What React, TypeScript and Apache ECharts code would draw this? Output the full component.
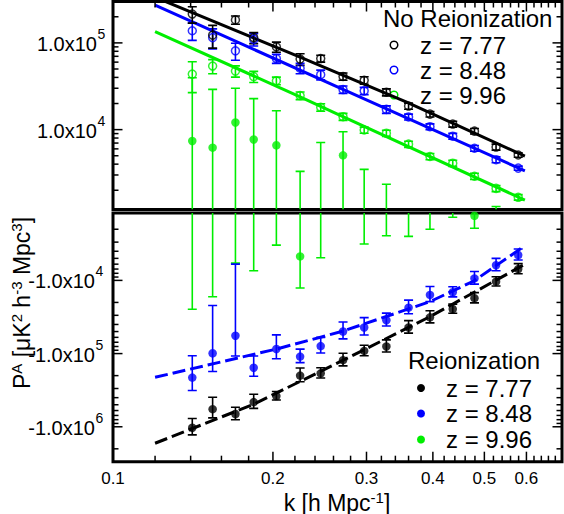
import React, { useEffect, useRef } from 'react';
import * as echarts from 'echarts';

// ---------------- data ----------------
const K = [0.141, 0.154, 0.170, 0.184, 0.203, 0.225, 0.246, 0.271, 0.297, 0.327, 0.360, 0.395, 0.436, 0.479, 0.526, 0.579];

// No reionization (positive power)
const NOREION_Z777 = [2.15e5, 1.23e5, 1.84e5, 1.15e5, 9.0e4, 6.5e4, 6.6e4, 4.1e4, 3.7e4, 2.7e4, 1.87e4, 1.51e4, 1.16e4, 9.6e3, 6.3e3, 5.1e3];
const NOREION_Z777_ERR = [4.6e4, 3.6e4, 2.0e4, 1.7e4, 1.2e4, 1.0e4, 6.0e3, 3.9e3, 3.7e3, 2.5e3, 1.5e3, 1.1e3, 9.0e2, 7.0e2, 5.0e2, 3.0e2];
const NOREION_Z848 = [1.38e5, 1.15e5, 8.1e4, 1.10e5, 6.6e4, 5.1e4, 4.3e4, 2.9e4, 2.8e4, 1.71e4, 1.40e4, 1.08e4, 8.4e3, 6.1e3, 4.5e3, 3.6e3];
const NOREION_Z848_ERR = [3.1e4, 3.0e4, 1.8e4, 1.8e4, 8.0e3, 7.0e3, 5.5e3, 2.9e3, 2.7e3, 1.7e3, 1.1e3, 8.5e2, 6.5e2, 4.7e2, 3.5e2, 2.0e2];
const NOREION_Z996 = [4.37e4, 5.41e4, 4.73e4, 4.09e4, 3.66e4, 2.47e4, 1.81e4, 1.41e4, 9.9e3, 9.1e3, 6.8e3, 4.9e3, 4.1e3, 2.9e3, 2.1e3, 1.66e3];
const NOREION_Z996_ERR = [1.7e4, 1.0e4, 7.0e3, 6.0e3, 3.7e3, 2.5e3, 1.8e3, 1.3e3, 8.0e2, 7.5e2, 5.5e2, 4.0e2, 3.3e2, 2.4e2, 1.7e2, 1.2e2];

// Reionization (signed power)
const REION_Z777 = [-1.03e6, -5.75e5, -6.7e5, -4.6e5, -3.8e5, -2.0e5, -1.86e5, -1.23e5, -9.2e4, -8.0e4, -4.4e4, -3.2e4, -2.46e4, -1.75e4, -1.04e4, -7.0e3];
const REION_Z777_ERR = [2.6e5, 1.8e5, 1.3e5, 1.0e5, 5.0e4, 4.3e4, 3.0e4, 2.4e4, 1.5e4, 1.5e4, 8.5e3, 6.0e3, 3.5e3, 2.8e3, 1.5e3, 1.1e3];
const REION_Z848 = [-2.13e5, -9.9e4, -5.7e4, -1.56e5, -8.65e4, -1.10e5, -7.9e4, -5.0e4, -4.4e4, -3.5e4, -2.36e4, -1.58e4, -1.45e4, -9.4e3, -6.2e3, -4.5e3];
const REION_Z848_ERR = [1.06e5, 7.7e4, 5.1e4, 4.8e4, 3.1e4, 2.3e4, 1.9e4, 1.3e4, 1.17e4, 7.0e3, 5.0e3, 3.7e3, 2.3e3, 1.85e3, 1.2e3, 7.7e2];
const REION_Z996 = [7.4e3, 6.2e3, 1.21e4, 7.7e3, 6.6e3, -4.7e3, 1.1e3, 5.05e3, 1.5e2, -5.0e1, -7.0e2, -6.0e2, -5.0e2, -1.31e3, 5.0e2, 2.0e2];
const REION_Z996_ERR = [3.22e4, 2.29e4, 1.79e4, 1.51e4, 9.9e3, 8.0e3, 6.0e3, 4.4e3, 3.33e3, 2.4e3, 1.8e3, 1.4e3, 8.7e2, 6.3e2, 8.0e2, 5.0e2];

// Model curves
const FIT_NR777_K = [0.12, 0.225, 0.357, 0.596];
const FIT_NR777_P = [3.36e5, 6.87e4, 2.08e4, 4.95e3];
const FIT_NR848_K = [0.12, 0.267, 0.596];
const FIT_NR848_P = [2.73e5, 3.02e4, 3.35e3];
const FIT_NR996_K = [0.12, 0.225, 0.267, 0.596];
const FIT_NR996_P = [1.345e5, 2.39e4, 1.47e4, 1.54e3];
const FIT_R777_K = [0.12, 0.1845, 0.2706, 0.395, 0.596];
const FIT_R777_P = [-1.68e6, -4.88e5, -1.24e5, -3.13e4, -6.02e3];
const FIT_R848_K = [0.12, 0.2033, 0.2706, 0.395, 0.4776, 0.596];
const FIT_R848_P = [-2.11e5, -8.65e4, -4.95e4, -1.95e4, -1.02e4, -3.36e3];

// Axes
const X_MIN = 0.1, X_MAX = 0.7;
const TOP_MIN = 1200, TOP_MAX = 3e5;
const BOT_MIN = 1200, BOT_MAX = 3e6;
const X_MAJOR = [0.1, 0.2, 0.3, 0.4, 0.5, 0.6];
const X_MAJOR_LABELS = ['0.1', '0.2', '0.3', '0.4', '0.5', '0.6'];
const X_MINOR = [0.12, 0.14, 0.16, 0.18, 0.22, 0.24, 0.26, 0.28, 0.32, 0.34, 0.36, 0.38, 0.42, 0.44, 0.46, 0.48, 0.52, 0.54, 0.56, 0.58, 0.62, 0.64, 0.66, 0.68];
const TOP_Y_MAJOR = [1e4, 1e5];
const TOP_Y_MINOR = [2e3, 3e3, 4e3, 5e3, 6e3, 7e3, 8e3, 9e3, 2e4, 3e4, 4e4, 5e4, 6e4, 7e4, 8e4, 9e4, 2e5];
const BOT_Y_MAJOR = [1e4, 1e5, 1e6];
const BOT_Y_MINOR = [2e3, 3e3, 4e3, 5e3, 6e3, 7e3, 8e3, 9e3, 2e4, 3e4, 4e4, 5e4, 6e4, 7e4, 8e4, 9e4, 2e5, 3e5, 4e5, 5e5, 6e5, 7e5, 8e5, 9e5, 2e6];

const SERIES_NAMES = ['z = 7.77', 'z = 8.48', 'z = 9.96'];

// ---------------- style ----------------
const FONT = '"Liberation Sans", Arial, Helvetica, sans-serif';
const BLACK = '#000000';
const BLUE = '#0000ff';
const GREEN = '#00ee00';

function txt(x: number, y: number, text: string, size: number, align: string, valign: string, extra: any = {}) {
  return {
    type: 'text', x, y,
    style: {
      text, font: `${size}px ${FONT}`, fontSize: size, fontFamily: FONT, fill: '#000',
      textAlign: align, textVerticalAlign: valign, align, verticalAlign: valign, ...extra,
    },
  };
}

function errSeries(gi: number, vals: number[], errs: number[], color: string, sign: number, yMin: number, yMax: number) {
  return {
    type: 'custom', xAxisIndex: gi, yAxisIndex: gi, z: 4, silent: true, clip: true,
    dimensions: ['k', 'p', 'v', 'e'], encode: { x: 0, y: 1 },
    data: K.map((k, i) => [k, yMin * 2, vals[i], errs[i]]),
    renderItem: (params: any, api: any) => {
      const k = api.value(0), v = api.value(2), e = api.value(3);
      const lo = v - e, hi = v + e;
      let a: number, b: number, capA = true, capB = true;
      if (sign > 0) { b = hi; a = lo; } else { b = -lo; a = -hi; }
      if (b <= yMin) return { type: 'group', children: [] };
      if (a < yMin) { a = yMin; capA = false; }
      if (b > yMax) { b = yMax; capB = false; }
      const p1 = api.coord([k, a]), p2 = api.coord([k, b]);
      const st = { stroke: color, lineWidth: 1.6 };
      const hw = 4.5;
      const children: any[] = [{ type: 'line', shape: { x1: p1[0], y1: p1[1], x2: p2[0], y2: p2[1] }, style: st }];
      if (capA) children.push({ type: 'line', shape: { x1: p1[0] - hw, y1: p1[1], x2: p1[0] + hw, y2: p1[1] }, style: st });
      if (capB) children.push({ type: 'line', shape: { x1: p2[0] - hw, y1: p2[1], x2: p2[0] + hw, y2: p2[1] }, style: st });
      return { type: 'group', children };
    },
  };
}

function scatterSeries(gi: number, vals: number[], color: string, sign: number, hollow: boolean) {
  const data: number[][] = [];
  K.forEach((k, i) => { const v = vals[i] * sign; if (v > 0) data.push([k, v]); });
  return {
    type: 'scatter', xAxisIndex: gi, yAxisIndex: gi, z: 5, silent: true, clip: true,
    symbol: 'circle', symbolSize: hollow ? 8 : 8.5,
    itemStyle: hollow ? { color: 'rgba(0,0,0,0)', borderColor: color, borderWidth: 1.5 } : { color, borderWidth: 0 },
    data,
  };
}

function lineSeries(gi: number, ks: number[], ps: number[], color: string, sign: number, dashed: boolean) {
  return {
    type: 'line', xAxisIndex: gi, yAxisIndex: gi, z: 3, silent: true, clip: true, symbol: 'none',
    lineStyle: { color, width: 3, type: dashed ? [13, 5] : 'solid' },
    data: ks.map((k, i) => [k, ps[i] * sign]),
  };
}

function yTickSeries(gi: number, majors: number[], minors: number[]) {
  return {
    type: 'custom', xAxisIndex: gi, yAxisIndex: gi, z: 10, silent: true,
    data: majors.map((v) => [X_MIN, v, 1]).concat(minors.map((v) => [X_MIN, v, 0])),
    renderItem: (params: any, api: any) => {
      const cs = params.coordSys;
      const p = api.coord([api.value(0), api.value(1)]);
      const len = api.value(2) ? 9.5 : 5.5;
      const st = { stroke: '#000', lineWidth: 1.5 };
      return {
        type: 'group', children: [
          { type: 'line', shape: { x1: cs.x, y1: p[1], x2: cs.x + len, y2: p[1] }, style: st },
          { type: 'line', shape: { x1: cs.x + cs.width, y1: p[1], x2: cs.x + cs.width - len, y2: p[1] }, style: st },
        ],
      };
    },
  };
}

function xTickSeries(gi: number, yRef: number, atTop: boolean) {
  return {
    type: 'custom', xAxisIndex: gi, yAxisIndex: gi, z: 10, silent: true,
    data: X_MAJOR.map((v) => [v, yRef, 1]).concat(X_MINOR.map((v) => [v, yRef, 0])),
    renderItem: (params: any, api: any) => {
      const cs = params.coordSys;
      const p = api.coord([api.value(0), api.value(1)]);
      const len = api.value(2) ? 10 : 6;
      const st = { stroke: '#000', lineWidth: 1.5 };
      const y0 = atTop ? cs.y : cs.y + cs.height;
      const y1 = atTop ? y0 + len : y0 - len;
      return { type: 'group', children: [{ type: 'line', shape: { x1: p[0], y1: y0, x2: p[0], y2: y1 }, style: st }] };
    },
  };
}

function yLabelSeries(gi: number, majors: number[], prefix: string, rightGap: number) {
  return {
    type: 'custom', xAxisIndex: gi, yAxisIndex: gi, z: 10, silent: true,
    data: majors.map((v) => [X_MIN, v]),
    renderItem: (params: any, api: any) => {
      const cs = params.coordSys;
      const v = api.value(1);
      const p = api.coord([api.value(0), v]);
      const exp = String(Math.round(Math.log10(v)));
      const xr = cs.x - rightGap;
      return {
        type: 'group', children: [
          txt(xr, p[1] + 1, prefix + '1.0x10', 20, 'right', 'middle'),
          txt(xr + 0.5, p[1] - 9, exp, 14, 'left', 'middle'),
        ],
      };
    },
  };
}

function xLabelSeries(gi: number, yRef: number) {
  return {
    type: 'custom', xAxisIndex: gi, yAxisIndex: gi, z: 10, silent: true,
    data: X_MAJOR.map((v, i) => [v, yRef, i]),
    renderItem: (params: any, api: any) => {
      const cs = params.coordSys;
      const p = api.coord([api.value(0), api.value(1)]);
      return txt(p[0], cs.y + cs.height + 17, X_MAJOR_LABELS[api.value(2)], 17, 'center', 'middle');
    },
  };
}

function hiddenAxis(extra: any) {
  return {
    type: 'log', logBase: 10, axisLine: { show: false }, axisTick: { show: false },
    axisLabel: { show: false }, splitLine: { show: false }, ...extra,
  };
}

export default function App() {
  const ref = useRef<HTMLDivElement>(null);
  useEffect(() => {
    if (!ref.current) return;
    const chart = echarts.init(ref.current, null, { renderer: 'svg' });
    const supRich = {
      m: { fontSize: 23, fontFamily: FONT, fill: '#000', lineHeight: 24, verticalAlign: 'bottom' },
      s: { fontSize: 15, fontFamily: FONT, fill: '#000', lineHeight: 15, padding: [0, 0, 13, 0], verticalAlign: 'top' },
    };
    const option: any = {
      animation: false,
      grid: [
        { left: 113, top: 1.5, width: 449, height: 208, show: true, borderWidth: 3, borderColor: '#000', backgroundColor: 'transparent' },
        { left: 113, top: 213, width: 449, height: 248.7, show: true, borderWidth: 3, borderColor: '#000', backgroundColor: 'transparent' },
      ],
      xAxis: [
        hiddenAxis({ gridIndex: 0, min: X_MIN, max: X_MAX }),
        hiddenAxis({ gridIndex: 1, min: X_MIN, max: X_MAX }),
      ],
      yAxis: [
        hiddenAxis({ gridIndex: 0, min: TOP_MIN, max: TOP_MAX }),
        hiddenAxis({ gridIndex: 1, min: BOT_MIN, max: BOT_MAX, inverse: true }),
      ],
      series: [
        // top panel
        lineSeries(0, FIT_NR996_K, FIT_NR996_P, GREEN, 1, false),
        lineSeries(0, FIT_NR848_K, FIT_NR848_P, BLUE, 1, false),
        lineSeries(0, FIT_NR777_K, FIT_NR777_P, BLACK, 1, false),
        errSeries(0, REION_Z996, REION_Z996_ERR, GREEN, 1, TOP_MIN, TOP_MAX),
        errSeries(0, REION_Z848, REION_Z848_ERR, BLUE, 1, TOP_MIN, TOP_MAX),
        errSeries(0, REION_Z777, REION_Z777_ERR, BLACK, 1, TOP_MIN, TOP_MAX),
        errSeries(0, NOREION_Z996, NOREION_Z996_ERR, GREEN, 1, TOP_MIN, TOP_MAX),
        errSeries(0, NOREION_Z848, NOREION_Z848_ERR, BLUE, 1, TOP_MIN, TOP_MAX),
        errSeries(0, NOREION_Z777, NOREION_Z777_ERR, BLACK, 1, TOP_MIN, TOP_MAX),
        scatterSeries(0, REION_Z996, GREEN, 1, false),
        scatterSeries(0, NOREION_Z996, GREEN, 1, true),
        scatterSeries(0, NOREION_Z848, BLUE, 1, true),
        scatterSeries(0, NOREION_Z777, BLACK, 1, true),
        // bottom panel
        lineSeries(1, FIT_R848_K, FIT_R848_P, BLUE, -1, true),
        lineSeries(1, FIT_R777_K, FIT_R777_P, BLACK, -1, true),
        errSeries(1, REION_Z996, REION_Z996_ERR, GREEN, -1, BOT_MIN, BOT_MAX),
        errSeries(1, REION_Z848, REION_Z848_ERR, BLUE, -1, BOT_MIN, BOT_MAX),
        errSeries(1, REION_Z777, REION_Z777_ERR, BLACK, -1, BOT_MIN, BOT_MAX),
        scatterSeries(1, REION_Z996, GREEN, -1, false),
        scatterSeries(1, REION_Z848, BLUE, -1, false),
        scatterSeries(1, REION_Z777, BLACK, -1, false),
        // axes decoration
        yTickSeries(0, TOP_Y_MAJOR, TOP_Y_MINOR),
        yTickSeries(1, BOT_Y_MAJOR, BOT_Y_MINOR),
        xTickSeries(0, TOP_MAX, true),
        xTickSeries(1, BOT_MAX, false),
        yLabelSeries(0, TOP_Y_MAJOR, '', 16),
        yLabelSeries(1, BOT_Y_MAJOR, '-', 18),
        xLabelSeries(1, BOT_MAX),
      ],
      graphic: [
        // y title
        {
          type: 'text', x: 21, y: 303, rotation: Math.PI / 2,
          style: {
            text: '{m|P}{s|A}{m| [μK}{s|2}{m| h}{s|-3}{m| Mpc}{s|3}{m|]}', rich: supRich,
            textAlign: 'center', textVerticalAlign: 'middle', align: 'center', verticalAlign: 'middle', fill: '#000',
          },
        },
        // x title
        {
          type: 'text', x: 337, y: 502,
          style: {
            text: '{m|k [h Mpc}{s|-1}{m|]}', rich: supRich,
            textAlign: 'center', textVerticalAlign: 'middle', align: 'center', verticalAlign: 'middle', fill: '#000',
          },
        },
        // top legend
        txt(383, 18, 'No Reionization', 24, 'left', 'middle'),
        { type: 'circle', shape: { cx: 394, cy: 45, r: 3.8 }, style: { fill: 'none', stroke: BLACK, lineWidth: 1.5 } },
        { type: 'circle', shape: { cx: 394, cy: 70, r: 3.8 }, style: { fill: 'none', stroke: BLUE, lineWidth: 1.5 } },
        { type: 'circle', shape: { cx: 394, cy: 95, r: 3.8 }, style: { fill: 'none', stroke: GREEN, lineWidth: 1.5 } },
        txt(420, 45, SERIES_NAMES[0], 24, 'left', 'middle'),
        txt(420, 70, SERIES_NAMES[1], 24, 'left', 'middle'),
        txt(420, 95, SERIES_NAMES[2], 24, 'left', 'middle'),
        // bottom legend
        txt(408, 360, 'Reionization', 24, 'left', 'middle'),
        { type: 'circle', shape: { cx: 421, cy: 388, r: 4 }, style: { fill: BLACK } },
        { type: 'circle', shape: { cx: 421, cy: 413.5, r: 4 }, style: { fill: BLUE } },
        { type: 'circle', shape: { cx: 421, cy: 439.5, r: 4 }, style: { fill: GREEN } },
        txt(446, 388, SERIES_NAMES[0], 24, 'left', 'middle'),
        txt(446, 413.5, SERIES_NAMES[1], 24, 'left', 'middle'),
        txt(446, 439.5, SERIES_NAMES[2], 24, 'left', 'middle'),
      ],
    };
    chart.setOption(option);
    return () => chart.dispose();
  }, []);
  return <div ref={ref} style={{ position: 'absolute', left: 0, top: 0, width: 564, height: 514, background: '#fff' }} />;
}
